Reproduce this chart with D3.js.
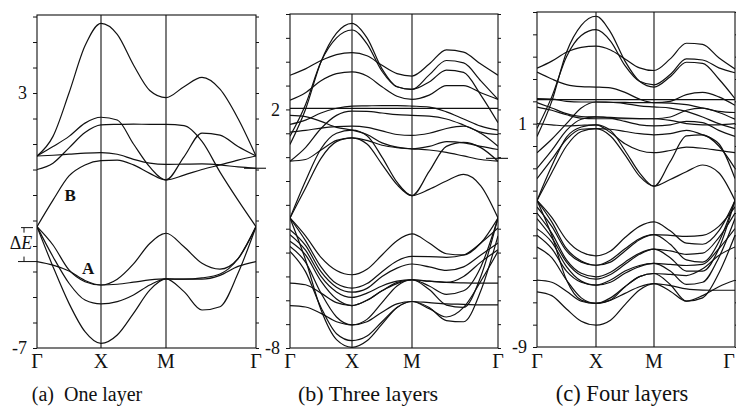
<!DOCTYPE html>
<html><head><meta charset="utf-8">
<script src="https://cdn.jsdelivr.net/npm/d3@7"></script>
<style>body{margin:0;background:#fff}svg{display:block;font-family:"Liberation Serif","DejaVu Serif",serif}</style>
</head><body><svg id="c" width="736" height="410"></svg>
<script>
// k-path sample positions: 0=Γ, 1=X, 2=M, 3=Γ
const kPoints = [0,0.25,0.5,0.75,1,1.25,1.5,1.75,2,2.2,2.4,2.6,2.8,3];
const kLabels = ["Γ","X","M","Γ"];

// (a) One layer — band energies (eV) at kPoints
const bandsA = [
  [0.53,1.3,3.0,4.85,5.73,5.3,4.1,3.1,2.82,3.25,3.61,3.15,2.0,0.53],
  [0.53,0.9,1.3,1.82,2.05,1.94,1.0,0.1,-0.41,0.5,1.43,1.35,0.9,0.53],
  [0.0,0.25,0.85,1.45,1.75,1.77,1.78,1.77,1.77,1.72,1.1,-0.1,-1.2,-2.24],
  [0.53,0.56,0.6,0.64,0.66,0.6,0.4,0.25,0.2,0.21,0.22,0.18,0.1,0.05],
  [-2.24,-1.2,-0.25,0.18,0.35,0.37,0.18,-0.15,-0.41,-0.22,0.0,0.18,0.37,0.53],
  [-2.24,-2.96,-3.94,-4.4,-4.53,-4.3,-3.7,-2.9,-2.5,-3.03,-3.68,-3.91,-3.5,-2.24],
  [-3.61,-3.75,-3.98,-4.35,-4.53,-4.5,-4.42,-4.33,-4.29,-4.3,-4.3,-4.15,-3.8,-3.61],
  [-2.24,-3.42,-4.46,-5.12,-5.27,-5.18,-4.92,-4.53,-4.29,-4.79,-5.51,-5.38,-4.07,-2.24],
  [-2.24,-3.81,-5.25,-6.36,-6.82,-6.49,-5.64,-4.73,-4.29,-4.3,-4.25,-4.1,-3.5,-2.24]
];
// (b) Three layers
const bandsB = [
  [0.53,2.0,4.0,5.2,5.61,5.0,3.7,2.95,2.84,3.45,4.05,3.95,3.2,2.42],
  [0.88,2.2,4.0,5.0,5.33,4.75,3.6,2.95,2.84,3.15,3.65,3.55,2.6,1.44],
  [3.43,3.7,4.05,4.3,4.38,4.25,3.85,3.5,3.4,3.9,4.5,4.4,3.9,3.43],
  [2.39,2.7,3.2,3.5,3.57,3.4,2.95,2.55,2.42,2.6,3.0,3.0,2.7,2.42],
  [2.04,2.04,2.04,2.04,2.04,2.04,2.04,2.04,2.04,2.04,2.04,2.04,2.04,2.04],
  [1.37,1.55,1.85,2.05,2.14,2.15,2.16,2.16,2.14,2.1,1.9,1.6,1.3,1.13],
  [-0.17,0.4,1.2,1.75,1.93,1.92,1.85,1.78,1.75,1.72,1.6,1.35,1.05,0.95],
  [1.05,1.12,1.22,1.28,1.3,1.25,1.1,0.95,0.91,1.0,1.2,1.3,1.0,0.46],
  [1.75,1.7,1.5,1.25,1.13,0.95,0.6,0.42,0.35,0.45,0.65,0.6,0.45,0.32],
  [-0.17,-0.1,0.3,0.7,0.81,0.7,0.5,0.4,0.35,0.3,0.2,0.05,-0.1,-0.17],
  [-2.55,-1.3,-0.05,0.65,0.81,0.55,-0.3,-1.15,-1.61,-1.35,-1.0,-0.72,-1.2,-2.55],
  [-2.55,-1.0,0.35,1.0,1.13,0.9,0.0,-1.05,-1.61,-0.6,0.45,0.62,0.4,-0.17],
  [-2.55,-3.3,-4.2,-4.75,-4.93,-4.7,-4.1,-3.5,-3.22,-3.6,-4.05,-4.1,-3.6,-2.55],
  [-2.55,-3.5,-4.6,-5.3,-5.49,-5.3,-4.8,-4.35,-4.16,-4.17,-4.2,-4.1,-3.6,-2.97],
  [-3.04,-3.7,-4.8,-5.45,-5.66,-5.5,-5.0,-4.65,-4.48,-4.6,-4.75,-4.6,-4.1,-3.6],
  [-3.25,-3.9,-5.0,-5.65,-5.88,-5.7,-5.4,-5.2,-5.14,-5.4,-5.75,-5.6,-4.6,-2.55],
  [-3.53,-4.1,-5.2,-5.95,-6.22,-6.0,-5.6,-5.25,-5.14,-5.2,-5.25,-5.0,-4.4,-3.88],
  [-3.74,-4.4,-5.7,-6.7,-7.03,-6.8,-6.1,-5.4,-5.14,-5.55,-6.2,-6.3,-5.0,-2.55],
  [-3.95,-4.8,-6.3,-7.4,-7.69,-7.5,-6.9,-6.3,-6.05,-6.3,-6.85,-6.9,-5.6,-3.3],
  [-2.55,-4.3,-6.4,-7.65,-7.97,-7.7,-7.0,-6.3,-6.05,-6.35,-6.7,-6.3,-5.2,-3.95],
  [-5.28,-5.35,-5.7,-6.1,-6.22,-6.0,-5.6,-5.3,-5.14,-5.2,-5.25,-5.27,-5.28,-5.28],
  [-6.22,-6.28,-6.55,-6.9,-7.03,-6.9,-6.5,-6.15,-6.05,-6.1,-6.15,-6.17,-6.19,-6.19]
];
// (c) Four layers
const bandsC = [
  [0.43,2.0,4.2,5.4,5.81,5.1,3.8,2.9,2.64,3.1,3.75,3.7,3.0,2.12],
  [0.78,2.2,4.0,4.95,5.21,4.7,3.6,2.9,2.74,3.2,3.9,3.85,3.5,3.28],
  [3.48,3.8,4.2,4.42,4.47,4.3,3.9,3.5,3.38,3.9,4.6,4.55,3.95,3.45],
  [3.31,3.0,2.75,2.66,2.64,2.6,2.4,2.1,1.94,2.0,2.3,2.4,2.2,1.82],
  [2.08,2.08,2.08,2.08,2.08,2.08,2.08,2.08,2.08,2.08,2.08,2.08,2.08,2.08],
  [2.12,2.1,2.0,1.97,1.97,1.96,1.95,1.94,1.94,1.92,1.85,1.7,1.55,1.5],
  [1.94,1.7,1.45,1.32,1.3,1.28,1.25,1.23,1.22,1.3,1.6,1.7,1.5,1.2],
  [1.74,1.6,1.4,1.25,1.22,1.22,1.22,1.22,1.22,1.15,1.0,0.95,0.95,1.0],
  [1.0,0.95,0.9,0.93,0.95,0.6,0.1,-0.2,-0.3,-0.2,-0.05,-0.1,-0.2,-0.3],
  [-0.3,0.3,1.0,1.7,1.97,1.96,1.9,1.8,1.75,1.7,1.55,1.3,1.0,0.78],
  [-1.0,-0.2,0.7,1.2,1.3,1.25,1.1,0.95,0.9,0.95,1.1,1.05,0.7,0.43],
  [-1.46,-0.6,0.3,0.75,0.78,0.75,0.65,0.55,0.5,0.55,0.7,0.5,0.1,-1.46],
  [-2.44,-1.2,0.0,0.65,0.78,0.45,-0.4,-1.35,-1.8,-1.5,-1.15,-0.85,-1.2,-2.44],
  [-2.44,-0.9,0.4,0.85,0.95,0.7,-0.2,-1.2,-1.8,-0.7,0.45,0.5,0.0,-1.0],
  [-2.44,-3.2,-4.2,-4.75,-4.92,-4.7,-4.1,-3.6,-3.4,-3.8,-4.35,-4.4,-3.8,-2.44],
  [-2.44,-3.4,-4.6,-5.15,-5.34,-5.1,-4.6,-4.15,-3.97,-4.0,-4.05,-4.0,-3.6,-2.73],
  [-2.73,-3.6,-4.7,-5.2,-5.34,-5.2,-4.7,-4.2,-3.97,-4.4,-5.1,-5.2,-4.3,-2.44],
  [-3.0,-3.9,-5.1,-5.7,-5.86,-5.65,-5.2,-4.8,-4.62,-4.7,-4.85,-4.8,-4.1,-3.0],
  [-3.25,-4.1,-5.2,-5.8,-5.96,-5.75,-5.3,-4.85,-4.62,-5.0,-5.6,-5.6,-4.6,-2.44],
  [-3.7,-4.3,-5.4,-6.05,-6.23,-6.0,-5.6,-5.35,-5.26,-5.3,-5.35,-5.3,-4.6,-3.7],
  [-4.0,-4.6,-5.6,-6.1,-6.23,-6.1,-5.7,-5.4,-5.26,-5.6,-6.2,-6.1,-5.0,-3.25],
  [-4.52,-5.0,-6.0,-6.8,-7.05,-6.8,-6.3,-5.85,-5.71,-6.2,-6.95,-6.8,-5.7,-4.0],
  [-2.44,-4.0,-6.0,-6.9,-7.05,-6.9,-6.3,-5.85,-5.71,-5.75,-5.8,-5.5,-4.9,-4.52],
  [-6.01,-6.1,-6.5,-6.95,-7.05,-6.9,-6.6,-6.3,-6.16,-6.5,-6.95,-6.7,-6.3,-6.01],
  [-6.53,-6.7,-7.3,-7.85,-8.02,-7.8,-7.1,-6.45,-6.16,-6.25,-6.4,-6.45,-6.46,-6.46]
];

const tickLabelsA = [3,-7];
const tickLabelsB = [2,-8];
const tickLabelsC = [1,-9];
const captions = ["(a)  One layer","(b) Three layers","(c) Four layers"];
// level of the short line that runs past the right edge of panels (a) and (b)
const edgeLevels = [0.05,-0.05,null];
// ΔE gap in panel (a)
const gapA = [-2.24,-3.61];

// layout (pixels)
const layout = [
  {nodes:[37,101,166,256], top:15, bottom:348, yd:[-7,6.06], capX:87, capSize:20},
  {nodes:[290,352,412,498], top:14, bottom:348, yd:[-8,6], capX:368, capSize:22},
  {nodes:[537,596,654,735], top:12, bottom:347, yd:[-9,6], capX:622, capSize:22.5}
];
const allBands = [bandsA,bandsB,bandsC];
const allTicks = [tickLabelsA,tickLabelsB,tickLabelsC];

const svg = d3.select("#c");
const defs = svg.append("defs");
const ink = "#111";
const W = 736;

layout.forEach((L,i)=>{
  const x = d3.scaleLinear().domain([0,1,2,3]).range(L.nodes);
  const y = d3.scaleLinear().domain(L.yd).range([L.bottom,L.top]);
  const g = svg.append("g");
  const x0=L.nodes[0], x1=L.nodes[3];
  defs.append("clipPath").attr("id","clip"+i).append("rect")
    .attr("x",x0).attr("y",L.top).attr("width",x1-x0).attr("height",L.bottom-L.top);

  const line = d3.line().x((d,j)=>x(kPoints[j])).y(d=>y(d)).curve(d3.curveMonotoneX);
  g.append("g").attr("clip-path",`url(#clip${i})`)
    .selectAll("path").data(allBands[i]).join("path")
    .attr("d",line).attr("fill","none").attr("stroke",ink).attr("stroke-width",1.2);

  // frame
  g.append("rect").attr("x",x0).attr("y",L.top).attr("width",x1-x0).attr("height",L.bottom-L.top)
    .attr("fill","none").attr("stroke",ink).attr("stroke-width",1.1);
  // symmetry lines X and M
  g.selectAll("line.sym").data([1,2]).join("line").attr("class","sym")
    .attr("x1",d=>x(d)).attr("x2",d=>x(d)).attr("y1",L.top).attr("y2",L.bottom)
    .attr("stroke",ink).attr("stroke-width",1.1);

  // y ticks
  const ints = d3.range(Math.ceil(L.yd[0]), Math.floor(L.yd[1])+1);
  const labs = allTicks[i];
  const axL = d3.axisLeft(y).tickValues(ints).tickSize(4).tickPadding(6)
    .tickFormat(d=>labs.includes(d)?String(d):"");
  const gl = g.append("g").attr("transform",`translate(${x0},0)`).call(axL);
  gl.select(".domain").remove();
  gl.selectAll("line").attr("stroke",ink);
  gl.selectAll("text").attr("font-size",18).attr("fill",ink).style("font-family","Liberation Serif");
  const axR = d3.axisRight(y).tickValues(ints).tickSize(3).tickFormat("");
  const gr = g.append("g").attr("transform",`translate(${x1},0)`).call(axR);
  gr.select(".domain").remove();
  gr.selectAll("line").attr("stroke",ink);

  // k labels (the last one is kept inside the window)
  g.selectAll("text.k").data(kLabels).join("text").attr("class","k")
    .attr("x",(d,j)=>Math.min(x(j), W-7)).attr("y",363).attr("text-anchor","middle")
    .attr("dominant-baseline","middle").attr("font-size",20).attr("fill",ink).text(d=>d);
  // caption
  g.append("text").attr("x",L.capX).attr("y",396).attr("text-anchor","middle")
    .attr("dominant-baseline","middle").attr("font-size",L.capSize).attr("fill",ink)
    .attr("xml:space","preserve").style("white-space","pre").text(captions[i]);

  // short line past right edge
  if(edgeLevels[i]!==null){
    g.append("line").attr("x1",x1-12).attr("x2",x1+10)
      .attr("y1",y(edgeLevels[i])).attr("y2",y(edgeLevels[i]))
      .attr("stroke",ink).attr("stroke-width",1.1);
  }

  if(i===0){
    g.append("text").attr("x",x(0.52)).attr("y",y(-1.08)).attr("text-anchor","middle")
      .attr("dominant-baseline","middle").attr("font-size",17).attr("font-weight","bold").attr("fill",ink).text("B");
    g.append("text").attr("x",x(0.8)).attr("y",y(-3.94)).attr("text-anchor","middle")
      .attr("dominant-baseline","middle").attr("font-size",17).attr("font-weight","bold").attr("fill",ink).text("A");
    const yt=y(gapA[0]), yb=y(gapA[1]);
    const gd = g.append("g").attr("stroke",ink).attr("stroke-width",1);
    gd.append("line").attr("x1",21).attr("x2",33).attr("y1",yt+1).attr("y2",yt+1);
    gd.append("line").attr("x1",24).attr("x2",24).attr("y1",yt+1).attr("y2",yt+6);
    gd.append("line").attr("x1",18).attr("x2",x0).attr("y1",yb).attr("y2",yb);
    gd.append("line").attr("x1",24).attr("x2",24).attr("y1",yb-5).attr("y2",yb);
    const t = g.append("text").attr("x",21).attr("y",(yt+yb)/2+1).attr("text-anchor","middle")
      .attr("dominant-baseline","middle").attr("font-size",18).attr("fill",ink);
    t.append("tspan").text("Δ");
    t.append("tspan").attr("font-style","italic").text("E");
  }
});
</script></body></html>
